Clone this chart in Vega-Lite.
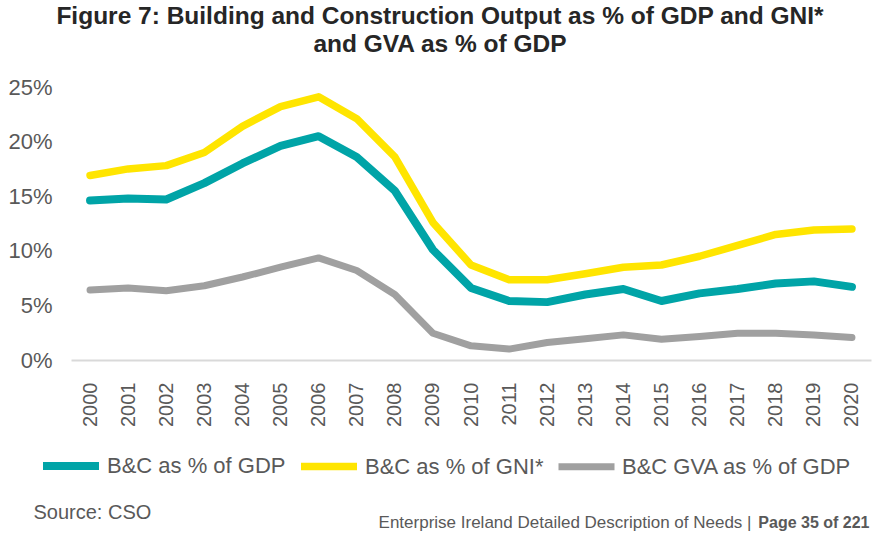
{
  "$schema": "https://vega.github.io/schema/vega-lite/v6.json",
  "width": 800,
  "height": 273,
  "autosize": {"type": "none"},
  "padding": {"left": 71, "top": 87, "right": 1, "bottom": 173},
  "background": "white",
  "title": {
    "text": ["Figure 7: Building and Construction Output as % of GDP and GNI*", "and GVA as % of GDP"],
    "fontSize": 24.5,
    "fontWeight": "bold",
    "font": "Liberation Sans",
    "color": "#262626",
    "anchor": "middle",
    "dx": -31,
    "lineHeight": 28,
    "offset": 19
  },
  "config": {
    "view": {"stroke": null},
    "font": "Liberation Sans"
  },
  "data": {
    "values": [
      {"year": "2000", "series": "B&C as % of GDP", "value": 0.146},
      {"year": "2001", "series": "B&C as % of GDP", "value": 0.148},
      {"year": "2002", "series": "B&C as % of GDP", "value": 0.147},
      {"year": "2003", "series": "B&C as % of GDP", "value": 0.162},
      {"year": "2004", "series": "B&C as % of GDP", "value": 0.180},
      {"year": "2005", "series": "B&C as % of GDP", "value": 0.196},
      {"year": "2006", "series": "B&C as % of GDP", "value": 0.205},
      {"year": "2007", "series": "B&C as % of GDP", "value": 0.186},
      {"year": "2008", "series": "B&C as % of GDP", "value": 0.155},
      {"year": "2009", "series": "B&C as % of GDP", "value": 0.101},
      {"year": "2010", "series": "B&C as % of GDP", "value": 0.066},
      {"year": "2011", "series": "B&C as % of GDP", "value": 0.054},
      {"year": "2012", "series": "B&C as % of GDP", "value": 0.053},
      {"year": "2013", "series": "B&C as % of GDP", "value": 0.060},
      {"year": "2014", "series": "B&C as % of GDP", "value": 0.065},
      {"year": "2015", "series": "B&C as % of GDP", "value": 0.054},
      {"year": "2016", "series": "B&C as % of GDP", "value": 0.061},
      {"year": "2017", "series": "B&C as % of GDP", "value": 0.065},
      {"year": "2018", "series": "B&C as % of GDP", "value": 0.070},
      {"year": "2019", "series": "B&C as % of GDP", "value": 0.072},
      {"year": "2020", "series": "B&C as % of GDP", "value": 0.067},
      {"year": "2000", "series": "B&C as % of GNI*", "value": 0.169},
      {"year": "2001", "series": "B&C as % of GNI*", "value": 0.175},
      {"year": "2002", "series": "B&C as % of GNI*", "value": 0.178},
      {"year": "2003", "series": "B&C as % of GNI*", "value": 0.190},
      {"year": "2004", "series": "B&C as % of GNI*", "value": 0.214},
      {"year": "2005", "series": "B&C as % of GNI*", "value": 0.232},
      {"year": "2006", "series": "B&C as % of GNI*", "value": 0.241},
      {"year": "2007", "series": "B&C as % of GNI*", "value": 0.221},
      {"year": "2008", "series": "B&C as % of GNI*", "value": 0.186},
      {"year": "2009", "series": "B&C as % of GNI*", "value": 0.126},
      {"year": "2010", "series": "B&C as % of GNI*", "value": 0.087},
      {"year": "2011", "series": "B&C as % of GNI*", "value": 0.0735},
      {"year": "2012", "series": "B&C as % of GNI*", "value": 0.0735},
      {"year": "2013", "series": "B&C as % of GNI*", "value": 0.079},
      {"year": "2014", "series": "B&C as % of GNI*", "value": 0.085},
      {"year": "2015", "series": "B&C as % of GNI*", "value": 0.087},
      {"year": "2016", "series": "B&C as % of GNI*", "value": 0.095},
      {"year": "2017", "series": "B&C as % of GNI*", "value": 0.105},
      {"year": "2018", "series": "B&C as % of GNI*", "value": 0.115},
      {"year": "2019", "series": "B&C as % of GNI*", "value": 0.119},
      {"year": "2020", "series": "B&C as % of GNI*", "value": 0.120},
      {"year": "2000", "series": "B&C GVA as % of GDP", "value": 0.064},
      {"year": "2001", "series": "B&C GVA as % of GDP", "value": 0.066},
      {"year": "2002", "series": "B&C GVA as % of GDP", "value": 0.0635},
      {"year": "2003", "series": "B&C GVA as % of GDP", "value": 0.068},
      {"year": "2004", "series": "B&C GVA as % of GDP", "value": 0.076},
      {"year": "2005", "series": "B&C GVA as % of GDP", "value": 0.085},
      {"year": "2006", "series": "B&C GVA as % of GDP", "value": 0.0935},
      {"year": "2007", "series": "B&C GVA as % of GDP", "value": 0.082},
      {"year": "2008", "series": "B&C GVA as % of GDP", "value": 0.060},
      {"year": "2009", "series": "B&C GVA as % of GDP", "value": 0.0245},
      {"year": "2010", "series": "B&C GVA as % of GDP", "value": 0.013},
      {"year": "2011", "series": "B&C GVA as % of GDP", "value": 0.010},
      {"year": "2012", "series": "B&C GVA as % of GDP", "value": 0.016},
      {"year": "2013", "series": "B&C GVA as % of GDP", "value": 0.0195},
      {"year": "2014", "series": "B&C GVA as % of GDP", "value": 0.023},
      {"year": "2015", "series": "B&C GVA as % of GDP", "value": 0.019},
      {"year": "2016", "series": "B&C GVA as % of GDP", "value": 0.0215},
      {"year": "2017", "series": "B&C GVA as % of GDP", "value": 0.0245},
      {"year": "2018", "series": "B&C GVA as % of GDP", "value": 0.0245},
      {"year": "2019", "series": "B&C GVA as % of GDP", "value": 0.023},
      {"year": "2020", "series": "B&C GVA as % of GDP", "value": 0.0205}
    ]
  },
  "resolve": {"axis": {"x": "independent"}},
  "layer": [
    {
      "mark": {"type": "line", "strokeCap": "round", "strokeJoin": "round"},
      "encoding": {
        "x": {
          "field": "year",
          "type": "ordinal",
          "scale": {"type": "point", "padding": 0.5},
          "axis": {
            "orient": "bottom",
            "labelAngle": -90,
            "labelFontSize": 20,
            "labelColor": "#595959",
            "labelPadding": 22,
            "ticks": false,
            "domainColor": "#D9D9D9",
            "domainWidth": 2,
            "title": "Source: CSO",
            "titleFontSize": 20,
            "titleFontWeight": "normal",
            "titleColor": "#595959",
            "titleAnchor": "start",
            "titleAlign": "left",
            "titleBaseline": "middle",
            "titleX": -38,
            "titleY": 152
          }
        },
        "y": {
          "field": "value",
          "type": "quantitative",
          "scale": {"domain": [0, 0.25], "nice": false},
          "axis": {
            "values": [0, 0.05, 0.1, 0.15, 0.2, 0.25],
            "format": ".0%",
            "labelFontSize": 22,
            "labelColor": "#595959",
            "labelPadding": 19,
            "ticks": false,
            "domain": false,
            "grid": false,
            "title": "Enterprise Ireland Detailed Description of Needs |",
            "titleAngle": 0,
            "titleFontSize": 17,
            "titleFontWeight": "normal",
            "titleColor": "#595959",
            "titleAlign": "right",
            "titleBaseline": "middle",
            "titleX": 680,
            "titleY": 435
          }
        },
        "color": {
          "field": "series",
          "type": "nominal",
          "scale": {
            "domain": ["B&C as % of GDP", "B&C as % of GNI*", "B&C GVA as % of GDP"],
            "range": ["#00A4A7", "#FFE500", "#A0A0A0"]
          },
          "legend": {
            "title": null,
            "orient": "none",
            "direction": "horizontal",
            "legendX": -32,
            "legendY": 347,
            "symbolType": "stroke",
            "symbolSize": 3136,
            "labelFontSize": 22,
            "labelColor": "#595959",
            "labelOffset": 4,
            "columnPadding": 0,
            "labelLimit": 400
          }
        },
        "strokeWidth": {
          "field": "series",
          "type": "nominal",
          "scale": {
            "domain": ["B&C as % of GDP", "B&C as % of GNI*", "B&C GVA as % of GDP"],
            "range": [8, 7, 5]
          },
          "legend": null
        },
        "order": {"field": "year"}
      }
    },
    {
      "mark": {"type": "line", "strokeOpacity": 0},
      "encoding": {
        "x": {
          "field": "year",
          "type": "ordinal",
          "scale": {"type": "point", "padding": 0.5},
          "axis": {
            "orient": "top",
            "labels": false,
            "ticks": false,
            "domain": false,
            "title": "Page 35 of 221",
            "titleFontSize": 16,
            "titleFontWeight": "bold",
            "titleColor": "#595959",
            "titleAnchor": "start",
            "titleAlign": "right",
            "titleBaseline": "middle",
            "titleX": 798,
            "titleY": 435
          }
        },
        "y": {"field": "value", "type": "quantitative"},
        "detail": {"field": "series"}
      }
    }
  ]
}
